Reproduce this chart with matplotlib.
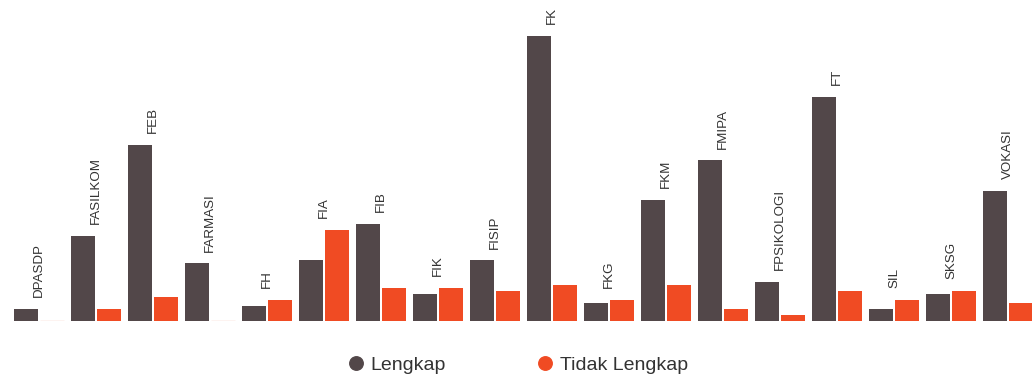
import numpy as np
import matplotlib
matplotlib.use("Agg")
import matplotlib.pyplot as plt
from matplotlib.lines import Line2D

plt.rcParams['font.family'] = ['Liberation Sans', 'DejaVu Sans']

# data per fakultas
fakultas = ['DPASDP', 'FASILKOM', 'FEB', 'FARMASI', 'FH', 'FIA', 'FIB', 'FIK', 'FISIP',
            'FK', 'FKG', 'FKM', 'FMIPA', 'FPSIKOLOGI', 'FT', 'SIL', 'SKSG', 'VOKASI']
lengkap = [4, 28, 58, 19, 5, 20, 32, 9, 20, 94, 6, 40, 53, 13, 74, 4, 9, 43]
tidak_lengkap = [0, 4, 8, 0, 7, 30, 11, 11, 10, 12, 7, 12, 4, 2, 10, 7, 10, 6]

warna_lengkap = '#524749'
warna_tidak = '#f04b23'

fig = plt.figure(figsize=(10.32, 3.78), dpi=100)
ax = fig.add_axes([0, 57 / 378, 1, 321 / 378])

x = np.arange(len(fakultas))
lebar = 0.42
geser = 0.234

ax.bar(x - geser, lengkap, lebar, color=warna_lengkap, linewidth=0)
tl = np.array(tidak_lengkap)
ax.bar(x + geser, tl, lebar, color=warna_tidak, linewidth=0)
# nilai nol tetap ditandai garis tipis
nol = tl == 0
ax.bar(x[nol] + geser, tl[nol], lebar, color='none', edgecolor='#f9c6b6', linewidth=1)

for i, nama in enumerate(fakultas):
    puncak = max(lengkap[i], tidak_lengkap[i])
    ax.annotate(nama, (x[i], puncak), xytext=(0, 8.5), textcoords='offset points',
                rotation=90, ha='center', va='bottom', fontsize=9.6, color='#333333')

ax.set_xlim(-39 / 57, (1032 - 39) / 57)
ax.set_ylim(0, 321 / 3.03)
ax.axis('off')

handles = [
    Line2D([], [], marker='o', linestyle='none', markersize=9.7, color=warna_lengkap, label='Lengkap'),
    Line2D([], [], marker='o', linestyle='none', markersize=9.7, color=warna_tidak, label='Tidak Lengkap'),
]
fig.legend(handles=handles, loc='center', bbox_to_anchor=(518 / 1032, 1 - 365 / 378), ncol=2,
           frameon=False, fontsize=14, handlelength=0.8, handletextpad=0.37,
           columnspacing=4.7, labelcolor='#333333')

fig.savefig('out.png', dpi=100)
